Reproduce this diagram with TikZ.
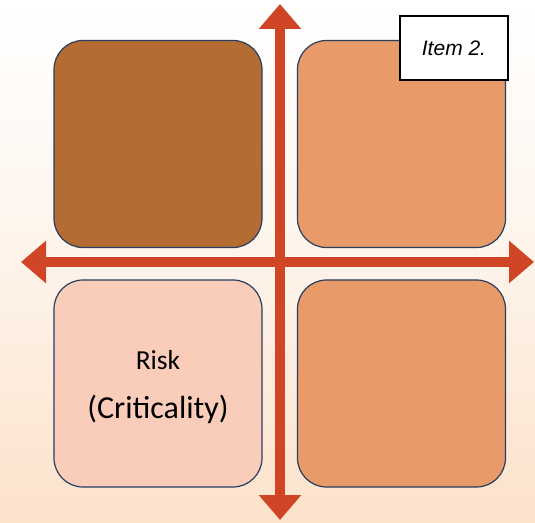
\documentclass[tikz,border=0pt]{standalone}
\usepackage{fontspec}
\setmainfont{Carlito}
\newfontfamily\itemfont{Liberation Sans}
\usetikzlibrary{arrows.meta}
\definecolor{fond}{RGB}{252,226,203}
\definecolor{fleche}{RGB}{207,69,38}
\definecolor{bord}{RGB}{40,62,96}
\definecolor{brun}{RGB}{180,108,50}
\definecolor{orange}{RGB}{232,154,104}
\definecolor{rose}{RGB}{249,205,185}

\begin{document}
\begin{tikzpicture}[x=1pt,y=1pt,
        carre/.style={draw=bord,line width=1.2pt,rounded corners=29pt,minimum width=208pt,minimum height=207pt},
        axe/.style={draw=fleche,line width=10pt,{Triangle[length=25pt,width=41pt]}-{Triangle[length=25pt,width=41pt]}}]
            \shade[top color=white,bottom color=fond,middle color=fond!40] (0,0) rectangle (535,522);
            \useasboundingbox (0,0) rectangle (535,522);
            % les quatre carres
            \node[carre,fill=brun] (hg) at (158,378) {};
            \node[carre,fill=orange] (hd) at (401.5,378) {};
            \node[carre,fill=rose] (bg) at (158,138.5) {};
            \node[carre,fill=orange] (bd) at (401.5,138.5) {};
            \node (risk) at (158,162) {\fontsize{27.5}{31}\selectfont Risk};
            \node (crit) at (158,113) {\fontsize{32}{36}\selectfont (Criticality)};
            % les axes
            \coordinate (haut) at (280,518);
            \coordinate (bas) at (280,2);
            \coordinate (gauche) at (21,260);
            \coordinate (droite) at (534,260);
            \draw[axe] (bas) -- (haut);
            \draw[axe] (gauche) -- (droite);
            \node[draw=black,line width=2pt,fill=white,minimum width=108pt,minimum height=64pt] (item) at (454,474) {\itemfont\itshape\fontsize{21}{25}\selectfont Item 2.};
        \end{tikzpicture}
\end{document}
